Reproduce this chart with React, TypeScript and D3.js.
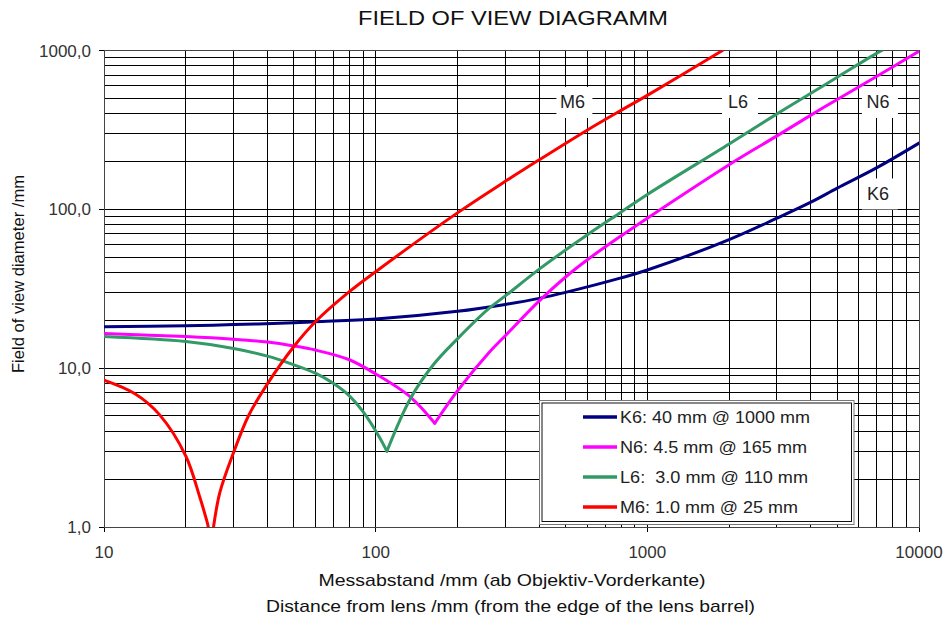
import React from "react";
import * as d3 from "d3";

// ---- data ----
const xTickValues = [10, 100, 1000, 10000];
const xTickLabels = ["10", "100", "1000", "10000"];
const yTickValues = [1, 10, 100, 1000];
const yTickLabels = ["1,0", "10,0", "100,0", "1000,0"];

const k6: [number, number][] = [
  [10, 18.2], [20, 18.5], [30, 18.8], [50, 19.3], [60, 19.6], [100, 20.4],
  [200, 22.8], [300, 25.2], [400, 27.5], [500, 30], [800, 37], [1000, 41.5],
  [2000, 64.5], [3000, 88], [4000, 111], [5000, 136], [7000, 183], [10000, 261],
];
const n6: [number, number][] = [
  [10, 16.5], [20, 15.8], [30, 15.2], [40, 14.6], [50, 13.8], [60, 13.0], [80, 11.3],
  [100, 9.2], [134, 6.6], [165, 4.5], [200, 7.2], [262, 12.6], [300, 16], [400, 26.5],
  [500, 37.5], [600, 48], [800, 68], [1000, 88], [2000, 191], [3000, 290], [4000, 392],
  [5000, 492], [7000, 688], [10000, 990],
];
const l6: [number, number][] = [
  [10, 15.8], [20, 14.7], [30, 13.3], [40, 11.9], [50, 10.5], [60, 9.3], [70, 8.0],
  [80, 6.7], [90, 5.3], [103, 3.7], [110, 3.0], [134, 6.4], [163, 10.5], [200, 15.3],
  [260, 23.6], [300, 28.5], [400, 42], [500, 55.5], [600, 69], [800, 96], [1000, 124],
  [2000, 258], [3000, 399], [4000, 538], [5000, 679], [7000, 962], [7300, 1000],
];
const m6: [number, number][] = [
  [10, 8.4], [13, 6.9], [16, 5.1], [20, 2.8], [22.5, 1.55], [23.6, 1.18], [24.2, 1.0],
  [24.75, 0.7], [25.3, 1.0], [26.7, 1.65], [30, 2.95], [34, 5.0], [40, 8.0], [50, 13.7],
  [60, 19.6], [80, 30.3], [100, 40.5], [200, 95], [300, 150], [400, 205], [600, 315],
  [800, 420], [1000, 522], [1890, 1000],
];

const seriesNames = ["K6", "N6", "L6", "M6"];
const seriesColors = ["#000080", "#ff00ff", "#339966", "#ff0000"];
const seriesData = [k6, n6, l6, m6];
const legendLabels = [
  "K6: 40 mm @ 1000 mm",
  "N6: 4.5 mm @ 165 mm",
  "L6:  3.0 mm @ 110 mm",
  "M6: 1.0 mm @ 25 mm",
];
const legendWidths = [190, 187, 188, 178];
// curve-label anchors in data coordinates
const curveLabels: { name: string; x: number; y: number }[] = [
  { name: "M6", x: 539, y: 471 },
  { name: "L6", x: 2193, y: 471 },
  { name: "N6", x: 7180, y: 471 },
  { name: "K6", x: 7180, y: 125 },
];

const W = 944;
const H = 617;
const L = 104, R = 919, T = 50.5, B = 527;
const FONT = "'Liberation Sans', Arial, Helvetica, sans-serif";

function minorTicks(lo: number, hi: number): number[] {
  const out: number[] = [];
  for (let d = lo; d < hi; d *= 10) for (let k = 1; k <= 9; k++) out.push(d * k);
  out.push(hi);
  return out;
}

function branches(data: [number, number][]): [number, number][][] {
  let mi = 0;
  data.forEach((d, i) => { if (d[1] < data[mi][1]) mi = i; });
  if (mi === 0 || mi === data.length - 1) return [data];
  return [data.slice(0, mi + 1), data.slice(mi)];
}

export default function App() {
  const x = d3.scaleLog().domain([10, 10000]).range([L, R]);
  const y = d3.scaleLog().domain([1, 1000]).range([B, T]);
  const line = d3
    .line<[number, number]>()
    .x((d) => x(d[0]))
    .y((d) => y(d[1]))
    .curve(d3.curveCatmullRom.alpha(0.5));

  const xs = minorTicks(10, 10000);
  const ys = minorTicks(1, 1000);

  return (
    <svg width={W} height={H} style={{ position: "absolute", left: 0, top: 0, background: "#fff" }} fontFamily={FONT}>
      <defs>
        <clipPath id="plot">
          <rect x={L} y={T} width={R - L} height={B - T} />
        </clipPath>
      </defs>
      <rect x={0} y={0} width={W} height={H} fill="#fff" />
      <text x={513} y={25} fontSize={20} textAnchor="middle" fill="#111" textLength={310} lengthAdjust="spacingAndGlyphs">
        FIELD OF VIEW DIAGRAMM
      </text>

      {/* grid */}
      <g stroke="#000" strokeWidth={1} shapeRendering="crispEdges">
        {xs.map((v, i) => (
          <line key={"gx" + i} x1={x(v)} x2={x(v)} y1={T} y2={B} />
        ))}
        {ys.map((v, i) => (
          <line key={"gy" + i} x1={L} x2={R} y1={y(v)} y2={y(v)} />
        ))}
        {yTickValues.map((v, i) => (
          <line key={"ty" + i} x1={L - 5} x2={L} y1={y(v)} y2={y(v)} />
        ))}
        {xTickValues.map((v, i) => (
          <line key={"tx" + i} x1={x(v)} x2={x(v)} y1={B} y2={B + 5} />
        ))}
        <rect x={L} y={T} width={R - L} height={B - T} fill="none" stroke="#444" />
      </g>

      {/* curve label boxes */}
      {curveLabels.map((c) => (
        <g key={c.name}>
          <rect x={x(c.x) - 18} y={y(c.y) - 15.5} width={36} height={31} fill="#fff" />
          <text x={x(c.x) - 2} y={y(c.y) + 6} fontSize={18} textAnchor="middle" fill="#222">
            {c.name}
          </text>
        </g>
      ))}

      {/* curves */}
      <g clipPath="url(#plot)" fill="none" strokeLinejoin="round" strokeLinecap="round">
        {seriesData.map((data, si) =>
          branches(data).map((b, bi) => (
            <path key={seriesNames[si] + bi} d={line(b) || ""} stroke={seriesColors[si]} strokeWidth={3} />
          ))
        )}
      </g>

      {/* legend */}
      <rect x={539.5} y={400.5} width={314.5} height={124} fill="#fff" stroke="#777" strokeWidth={1} />
      <rect x={542} y={403} width={309.5} height={118.5} fill="#fff" stroke="#111" strokeWidth={1} />
      {legendLabels.map((lab, i) => (
        <g key={lab}>
          <line x1={583} x2={617} y1={417 + i * 30} y2={417 + i * 30} stroke={seriesColors[i]} strokeWidth={3.5} />
          <text x={620} y={423.3 + i * 30} fontSize={17} fill="#222" style={{ whiteSpace: "pre" }} textLength={legendWidths[i]} lengthAdjust="spacingAndGlyphs">
            {lab}
          </text>
        </g>
      ))}

      {/* tick labels */}
      {yTickValues.map((v, i) => (
        <text key={"yl" + i} x={91} y={y(v) + 6} fontSize={17} textAnchor="end" fill="#333">
          {yTickLabels[i]}
        </text>
      ))}
      {xTickValues.map((v, i) => (
        <text key={"xl" + i} x={x(v)} y={558} fontSize={17} textAnchor="middle" fill="#333">
          {xTickLabels[i]}
        </text>
      ))}

      {/* axis titles */}
      <text x={512} y={586} fontSize={17} textAnchor="middle" fill="#111" textLength={387} lengthAdjust="spacingAndGlyphs">
        Messabstand /mm (ab Objektiv-Vorderkante)
      </text>
      <text x={510.5} y={612} fontSize={17} textAnchor="middle" fill="#111" textLength={489} lengthAdjust="spacingAndGlyphs">
        Distance from lens /mm (from the edge of the lens barrel)
      </text>
      <text transform="translate(24,274) rotate(-90)" fontSize={16.5} textAnchor="middle" fill="#111" textLength={198} lengthAdjust="spacingAndGlyphs">
        Field of view diameter /mm
      </text>
    </svg>
  );
}
